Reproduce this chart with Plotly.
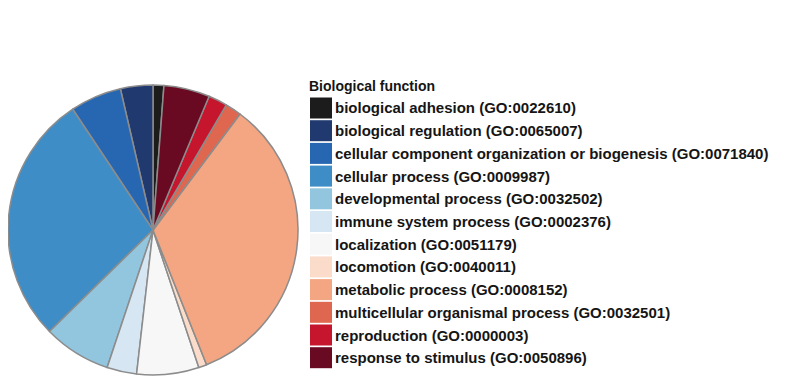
import plotly.graph_objects as go

# Data (share of genes per category)
labels = [
    "biological adhesion (GO:0022610)",
    "biological regulation (GO:0065007)",
    "cellular component organization or biogenesis (GO:0071840)",
    "cellular process (GO:0009987)",
    "developmental process (GO:0032502)",
    "immune system process (GO:0002376)",
    "localization (GO:0051179)",
    "locomotion (GO:0040011)",
    "metabolic process (GO:0008152)",
    "multicellular organismal process (GO:0032501)",
    "reproduction (GO:0000003)",
    "response to stimulus (GO:0050896)",
]
values = [4, 12, 19, 93, 25, 11, 23, 3, 112, 6, 7, 17]
colors = [
    "#1c1c1c", "#203a70", "#2767b2", "#3f8dc6", "#92c5de", "#d6e6f2",
    "#f7f7f7", "#fbdccb", "#f4a582", "#e0674f", "#c5162e", "#6a0a22",
]
legend_title = "Biological function"

OFF = 8  # page body margin
W, H = 802 - OFF, 387 - OFF


def px(x):
    return (x - OFF) / W


def py(y):
    return 1 - (y - OFF) / H


fig = go.Figure()
fig.add_trace(go.Pie(
    labels=labels,
    values=values,
    sort=False,
    direction="counterclockwise",
    rotation=0,
    textinfo="none",
    hoverinfo="label+percent",
    marker=dict(colors=colors, line=dict(color="#8c8c8c", width=1.5)),
    domain=dict(x=[px(8), px(298)], y=[py(375), py(85)]),
    showlegend=False,
))

# Legend drawn as swatches + text
shapes = []
annotations = []
x0, x1 = 310, 332
y_first, pitch, sw_h = 108, 22.7, 21
font = dict(family="Liberation Sans, Arial", size=15, color="#151515")
for i, (lab, col) in enumerate(zip(labels, colors)):
    yc = y_first + pitch * i
    shapes.append(dict(
        type="rect", xref="paper", yref="paper",
        x0=px(x0), x1=px(x1),
        y0=py(yc + sw_h / 2), y1=py(yc - sw_h / 2),
        fillcolor=col, line=dict(width=0),
    ))
    annotations.append(dict(
        x=px(333), y=py(yc), xref="paper", yref="paper",
        xanchor="left", yanchor="middle", showarrow=False,
        text="<b>" + lab + "</b>", font=font,
    ))
annotations.append(dict(
    x=px(307), y=py(86), xref="paper", yref="paper",
    xanchor="left", yanchor="middle", showarrow=False,
    text="<b>" + legend_title + "</b>",
    font=dict(family="Liberation Sans, Arial", size=14, color="#151515"),
))

fig.update_layout(
    width=W, height=H,
    margin=dict(l=0, r=0, t=0, b=0),
    paper_bgcolor="white",
    plot_bgcolor="white",
    shapes=shapes,
    annotations=annotations,
)

fig.write_html("out.html")
